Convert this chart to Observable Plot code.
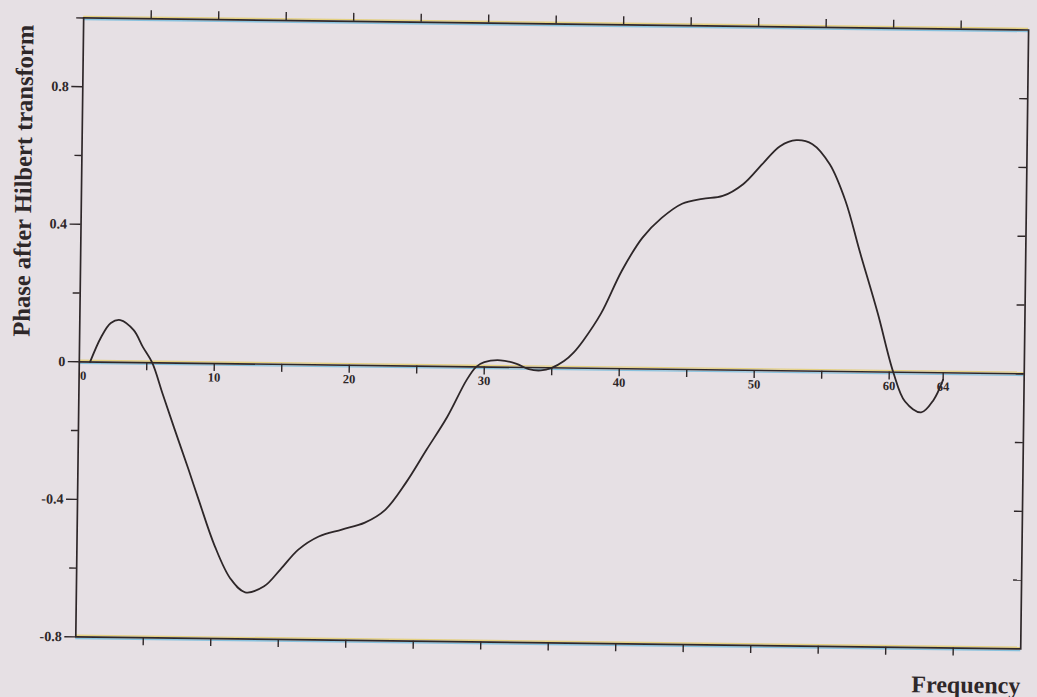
<!DOCTYPE html>
<html>
<head>
<meta charset="utf-8">
<script src="https://cdn.jsdelivr.net/npm/d3@7"></script>
<script src="https://cdn.jsdelivr.net/npm/@observablehq/plot@0.6"></script>
<style>
  html, body { margin: 0; padding: 0; background: #e6e0e4; overflow: hidden; }
  #chart svg { display: block; }
</style>
</head>
<body>
<div id="chart"></div>
<script>
// Phase of the trace after the Hilbert transform, against frequency index
const freq = [0.8, 1.6, 2.3, 3.0, 4.0, 4.7, 5.4, 6.2, 7.1, 8.2, 9.0, 10.2, 11.4, 12.5, 13.9, 15.1, 16.4, 17.9,
  19.6, 21.3, 22.8, 24.3, 25.8, 27.3, 28.7, 29.4, 30.0, 31.2, 32.4, 33.3, 34.2, 35.0, 35.9, 36.6, 37.3,
  38.6, 40.1, 41.6, 43.0, 44.5, 46.0, 47.5, 49.0, 50.4, 51.7, 52.9, 54.1, 55.4, 56.6, 57.7, 59.1, 60.3,
  61.2, 62.4, 63.3, 64.0];
const phase = [0, 0.073, 0.114, 0.123, 0.094, 0.045, 0, -0.09, -0.19, -0.31, -0.40, -0.53, -0.625, -0.664,
  -0.646, -0.596, -0.538, -0.499, -0.478, -0.457, -0.419, -0.34, -0.243, -0.147, -0.039, 0, 0.014, 0.02,
  0.01, -0.005, -0.008, 0, 0.02, 0.045, 0.08, 0.16, 0.285, 0.382, 0.44, 0.482, 0.497, 0.506, 0.541,
  0.60, 0.653, 0.671, 0.66, 0.602, 0.496, 0.35, 0.17, 0, -0.085, -0.116, -0.08, -0.02];

// Axis extents and ticks
const xDomain = [0, 70];
const yDomain = [-0.8, 1.0];
const xFrameTicks = [5, 10, 15, 20, 25, 30, 35, 40, 45, 50, 55, 60, 65];
const xZeroTicks = [5, 10, 15, 20, 25, 30, 35, 40, 45, 50, 55, 60, 64];
const xLabelValues = [10, 20, 30, 40, 50, 60, 64];
const xLabels = ["10", "20", "30", "40", "50", "60", "64"];
const xOriginLabel = ["0"];
const yMajor = [-0.8, -0.4, 0, 0.4, 0.8];
const yLabels = ["-0.8", "-0.4", "0", "0.4", "0.8"];
const yMinor = [-0.6, -0.2, 0.2, 0.6, 1.0];
const yRightTicks = [-0.6, -0.4, -0.2, 0, 0.2, 0.4, 0.6, 0.8];
const yTitle = "Phase after Hilbert transform";
const xTitle = "Frequency";

const ink = "#2e2729";
const serif = "'Liberation Serif', 'Times New Roman', serif";
const rows = freq.map((f, i) => ({f, p: phase[i]}));

const chart = Plot.plot({
  width: 1037,
  height: 697,
  marginLeft: 79,
  marginRight: 13,
  marginTop: 23,
  marginBottom: 55,
  x: {domain: xDomain, axis: null},
  y: {domain: yDomain, axis: null},
  style: {background: "#e6e0e4", color: ink, fontFamily: serif},
  marks: [
    // colour fringes along the horizontal rules
    Plot.ruleY([yDomain[0], 0, yDomain[1]], {stroke: "#e2c43c", strokeWidth: 1.4, strokeOpacity: 0.6, dy: -1.6}),
    Plot.ruleY([yDomain[0], 0, yDomain[1]], {stroke: "#3aa9d8", strokeWidth: 1.4, strokeOpacity: 0.55, dy: 1.6}),
    Plot.frame({stroke: ink, strokeWidth: 1.7}),
    Plot.ruleY([0], {stroke: ink, strokeWidth: 1.7}),
    // ticks on the frame
    Plot.ruleX(xFrameTicks, {x: d => d, y1: yDomain[1], y2: yDomain[1], insetTop: -8, stroke: ink, strokeWidth: 1.4}),
    Plot.ruleX(xFrameTicks, {x: d => d, y1: yDomain[0], y2: yDomain[0], insetBottom: -8, stroke: ink, strokeWidth: 1.4}),
    Plot.ruleY(yMajor, {y: d => d, x1: xDomain[0], x2: xDomain[0], insetLeft: -11, stroke: ink, strokeWidth: 1.4}),
    Plot.ruleY(yMinor, {y: d => d, x1: xDomain[0], x2: xDomain[0], insetLeft: -7, stroke: ink, strokeWidth: 1.4}),
    Plot.ruleY(yRightTicks, {y: d => d, x1: xDomain[1], x2: xDomain[1], insetLeft: -8, stroke: ink, strokeWidth: 1.4}),
    // ticks hanging from the zero line
    Plot.ruleX(xZeroTicks, {x: d => d, y1: 0, y2: 0, insetBottom: -8, stroke: ink, strokeWidth: 1.4}),
    // tick labels
    Plot.text(yMajor, {x: xDomain[0], y: d => d, text: (d, i) => yLabels[i], textAnchor: "end", dx: -14,
      fontSize: 14, fontWeight: "bold", fill: ink}),
    Plot.text(xLabelValues, {x: d => d, y: 0, text: (d, i) => xLabels[i], dy: 14,
      fontSize: 12.5, fontWeight: "bold", fill: ink}),
    Plot.text(xOriginLabel, {x: xDomain[0], y: 0, text: d => d, textAnchor: "start", dx: 1, dy: 14,
      fontSize: 12.5, fontWeight: "bold", fill: ink}),
    // phase curve
    Plot.line(rows, {x: "f", y: "p", curve: "catmull-rom", stroke: ink, strokeWidth: 1.8}),
    // axis titles
    Plot.text([yTitle], {frameAnchor: "left", textAnchor: "middle", lineAnchor: "middle", rotate: -90,
      dx: -58, dy: -146, fontSize: 24.5, fontWeight: "bold", fill: ink}),
    Plot.text([xTitle], {frameAnchor: "bottom-right", textAnchor: "end", lineAnchor: "middle", dy: 37,
      fontSize: 24, fontWeight: "bold", fill: ink})
  ]
});

chart.style.transform = "rotate(0.73deg)";
chart.style.transformOrigin = "50% 50%";
document.getElementById("chart").append(chart);
</script>
</body>
</html>
